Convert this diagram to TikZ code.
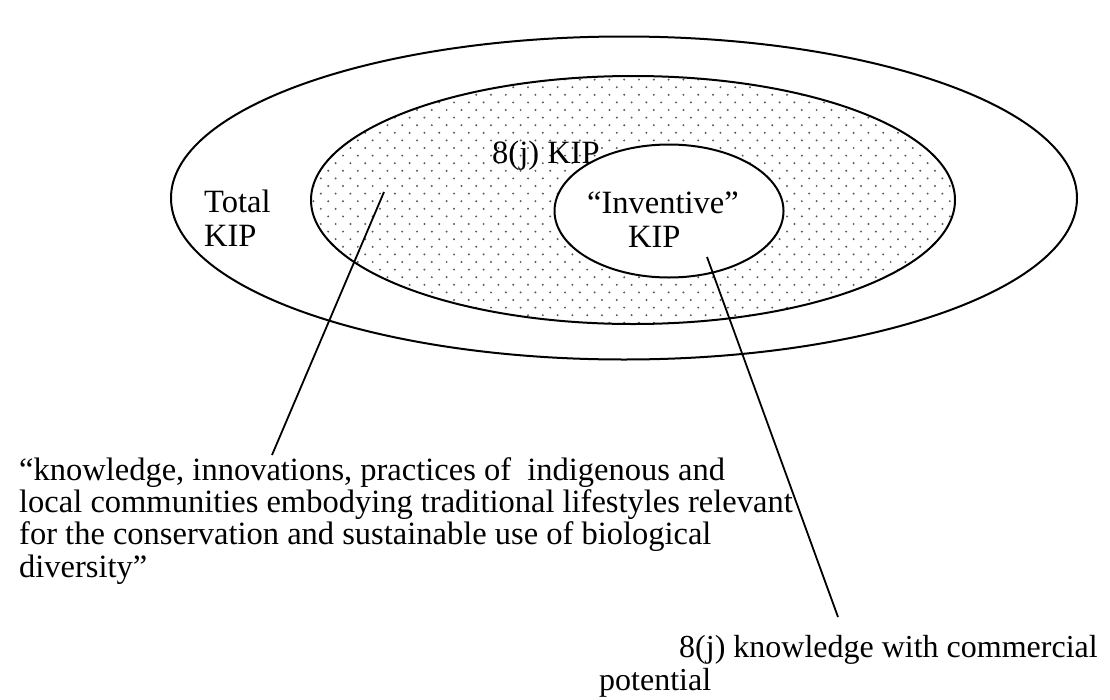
\documentclass[tikz,border=0pt]{standalone}
\usepackage{fontspec}
\setmainfont{Liberation Serif}
\usetikzlibrary{shapes.geometric}

\tikzset{
  ring/.style={ellipse, draw, line width=2pt, inner sep=0pt},
  txt/.style={font=\fontsize{32.5}{34}\selectfont, inner sep=0pt, align=left, anchor=base west},
  pointer/.style={line width=1.8pt},
}

\begin{document}
\begin{tikzpicture}[x=1pt, y=-1pt]
	\useasboundingbox (0,0) rectangle (1110,699);

	% dotted band of 8(j) knowledge
	\begin{scope}
		\clip (633,200) ellipse [x radius=322, y radius=124];
		\foreach \r in {0,...,34} {
			\foreach \c in {0,...,45} {
				\fill[black!65] ({306+\c*14.8+mod(\r,2)*7.4},{72+\r*7.6}) circle (1.1);
			}
		}
	\end{scope}

	\node[ring, minimum width=906, minimum height=323] (total) at (624,198) {};
	\node[ring, minimum width=644, minimum height=248] (kipj) at (633,200) {};
	\node[ring, fill=white, minimum width=229, minimum height=133] (inventive) at (669,211) {};

	\node[txt] (totallbl) at (204,246) {Total\\KIP};
	\node[txt] (kipjlbl) at (492,163) {8(j) KIP};
	\node[txt] (inventivelbl) at (587,247) {“Inventive”\\\hspace*{41pt}KIP};

	\node[txt, font=\fontsize{32.5}{32.3}\selectfont] (deflbl) at (19,577) {“knowledge, innovations, practices of \ indigenous and\\
		local communities embodying traditional lifestyles relevant\\
		for the conservation and sustainable use of biological\\
		diversity”};
	\node[txt, font=\fontsize{32}{33}\selectfont] (commlbl) at (599,690) {\hspace*{80pt}8(j) knowledge with commercial\\potential};

	% pointers
	\coordinate (deftip) at (384,192);
	\coordinate (deffoot) at (272,455);
	\coordinate (commtip) at (707,257);
	\coordinate (commfoot) at (838,617);
	\draw[pointer] (deftip) -- (deffoot);
	\draw[pointer] (commtip) -- (commfoot);
\end{tikzpicture}
\end{document}
